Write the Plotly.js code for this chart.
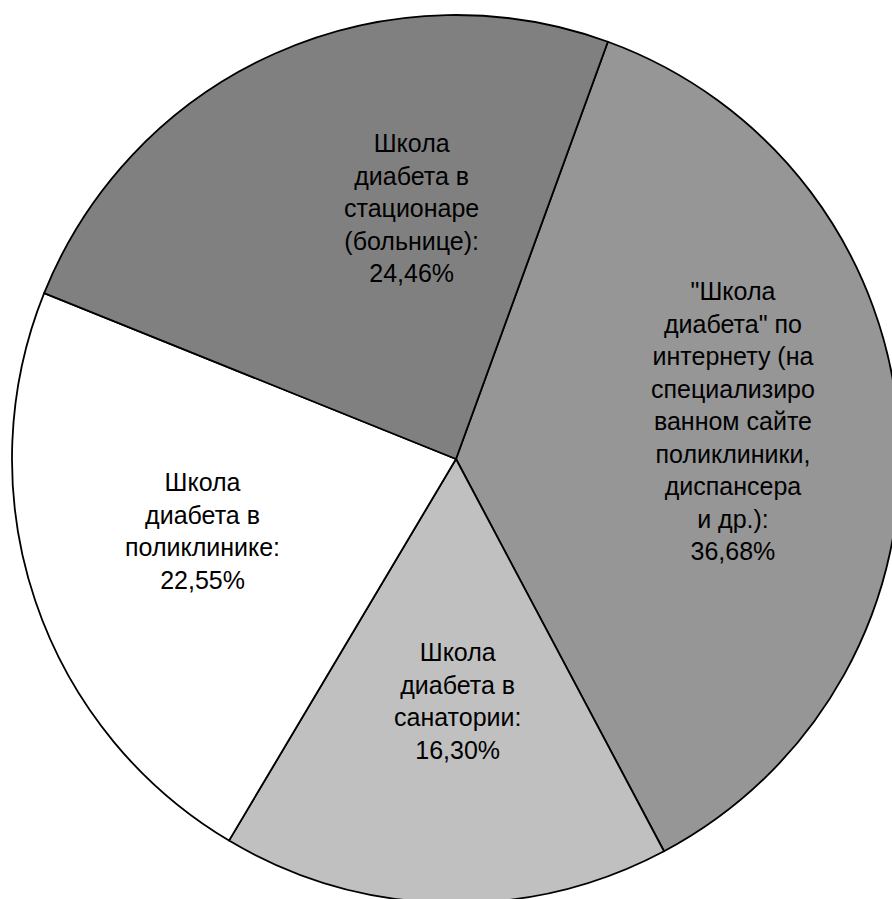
<!DOCTYPE html>
<html>
<head>
<meta charset="utf-8">
<script src="https://cdn.plot.ly/plotly-3.0.1.min.js"></script>
<style>
  html, body { margin: 0; padding: 0; background: #ffffff; overflow: hidden; }
  #chart { width: 912px; height: 918px; }
</style>
</head>
<body>
<div id="chart"></div>
<script>
// Где пациенты проходили обучение в «Школе диабета» (доля ответов, %)
const categories = [
  '"Школа\nдиабета" по\nинтернету (на\nспециализиро\nванном сайте\nполиклиники,\nдиспансера\nи др.)',
  'Школа\nдиабета в\nсанатории',
  'Школа\nдиабета в\nполиклинике',
  'Школа\nдиабета в\nстационаре\n(больнице)'
];
const shares = [36.68, 16.30, 22.55, 24.46];
const sliceColors = ['#969696', '#c0c0c0', '#ffffff', '#808080'];

// label anchor points (pixels from the top-left of the plot area)
const labelAnchors = [[733, 421], [457, 701], [202, 531], [411, 208]];

const W = 912, H = 918;
const CX = 456, CY = 459, R = 444;

function fmtPct(v) {
  return v.toFixed(2).replace('.', ',') + '%';
}

const annotations = categories.map((c, i) => ({
  text: c.split('\n').join('<br>') + ':<br>' + fmtPct(shares[i]),
  x: labelAnchors[i][0] / W,
  y: 1 - labelAnchors[i][1] / H,
  xref: 'paper', yref: 'paper',
  xanchor: 'center', yanchor: 'middle',
  align: 'center',
  showarrow: false,
  font: { family: 'Liberation Sans, Arial, sans-serif', size: 25, color: '#000000' }
}));

const trace = {
  type: 'pie',
  labels: categories,
  values: shares,
  sort: false,
  direction: 'clockwise',
  rotation: 20,
  textinfo: 'none',
  hoverinfo: 'none',
  marker: { colors: sliceColors, line: { color: '#000000', width: 1.8 } },
  domain: { x: [(CX - R) / W, (CX + R) / W], y: [(H - CY - R) / H, (H - CY + R) / H] },
  showlegend: false
};

const layout = {
  width: W,
  height: H,
  margin: { l: 0, r: 0, t: 0, b: 0 },
  paper_bgcolor: '#ffffff',
  plot_bgcolor: '#ffffff',
  showlegend: false,
  annotations: annotations
};

Plotly.newPlot('chart', [trace], layout, { staticPlot: true, displayModeBar: false });
</script>
</body>
</html>
